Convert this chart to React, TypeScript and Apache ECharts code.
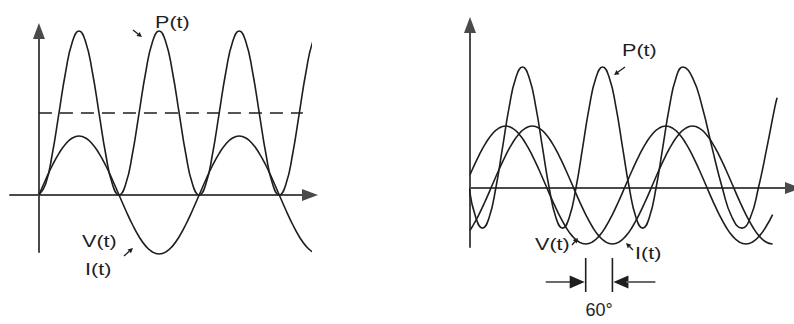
import { useEffect, useRef } from "react";
import * as echarts from "echarts";

// ---- In-phase panel: V(t) and I(t) coincide, P(t) = V·I ----
// phase angle in degrees
const leftTheta = [
  0, 15, 30, 45, 60, 75, 90, 105, 120, 135, 150, 165, 180, 195, 210, 225, 240, 255, 270, 285, 300,
  315, 330, 345, 360, 375, 390, 405, 420, 435, 450, 465, 480, 495, 510, 525, 540, 555, 570, 585, 600,
  615, 630,
];
const leftV = [
  0, 0.259, 0.5, 0.707, 0.866, 0.966, 1, 0.966, 0.866, 0.707, 0.5, 0.259, 0, -0.259, -0.5, -0.707,
  -0.866, -0.966, -1, -0.966, -0.866, -0.707, -0.5, -0.259, 0, 0.259, 0.5, 0.707, 0.866, 0.966, 1,
  0.966, 0.866, 0.707, 0.5, 0.259, 0, -0.259, -0.5, -0.707, -0.866, -0.966, -1,
];
const leftP = [
  0, 0.186, 0.695, 1.39, 2.085, 2.594, 2.78, 2.594, 2.085, 1.39, 0.695, 0.186,
  0, 0.186, 0.695, 1.39, 2.085, 2.594, 2.78, 2.594, 2.085, 1.39, 0.695, 0.186,
  0, 0.186, 0.695, 1.39, 2.085, 2.594, 2.78, 2.594, 2.085, 1.39, 0.695, 0.186,
  0, 0.186, 0.695, 1.39, 2.085, 2.594, 2.78,
];
const leftAvgP = 1.39;
const leftAvgSpan = [0, 593];

// ---- 60° phase-shift panel ----
const rightTheta = [
  10, 15, 30, 45, 60, 75, 90, 105, 120, 135, 150, 165, 180, 195, 210, 225, 240, 255, 270, 285, 300,
  315, 330, 345, 360, 375, 390, 405, 420, 435, 450, 465, 480, 495, 510, 525, 540, 555, 570, 585, 600,
  615, 630, 645, 660, 675, 690,
];
const rightV = [
  0.224, 0.309, 0.55, 0.757, 0.916, 1.016, 1.05, 1.016, 0.916, 0.757, 0.55, 0.309, 0.05, -0.209,
  -0.45, -0.657, -0.816, -0.916, -0.95, -0.916, -0.816, -0.657, -0.45, -0.209, 0.05, 0.309, 0.55,
  0.757, 0.916, 1.016, 1.05, 1.016, 0.916, 0.757, 0.55, 0.309, 0.05, -0.209, -0.45, -0.657, -0.816,
  -0.916, -0.95, -0.916, -0.816, -0.657, -0.45,
];
const rightI = [
  -0.716, -0.657, -0.45, -0.209, 0.05, 0.309, 0.55, 0.757, 0.916, 1.016, 1.05, 1.016, 0.916, 0.757,
  0.55, 0.309, 0.05, -0.209, -0.45, -0.657, -0.816, -0.916, -0.95, -0.916, -0.816, -0.657, -0.45,
  -0.209, 0.05, 0.309, 0.55, 0.757, 0.916, 1.016, 1.05, 1.016, 0.916, 0.757, 0.55, 0.309, 0.05,
  -0.209, -0.45, -0.657, -0.816, -0.916, -0.95,
];
const rightPTheta = [
  8, 23, 38, 53, 68, 83, 98, 113, 128, 143, 158, 173, 188, 203, 218, 233, 248, 263, 278, 293, 308,
  323, 338, 353, 368, 383, 398, 413, 428, 443, 458, 473, 488, 510, 532, 554, 577, 599, 621, 640,
  658, 677, 695, 700,
];
const rightP = [
  0, -0.5, -0.68, -0.5, 0, 0.68, 1.37, 1.87, 2.05, 1.87, 1.37, 0.68,
  0, -0.5, -0.68, -0.5, 0, 0.68, 1.37, 1.87, 2.05, 1.87, 1.37, 0.68,
  0, -0.5, -0.68, -0.5, 0, 0.68, 1.37, 1.87, 2.05, 1.87, 1.37, 0.68,
  0, -0.5, -0.68, -0.5, 0, 0.68, 1.37, 1.53,
];
// troughs of V(t) and I(t), 60° apart
const phaseMarks = [270, 330];

const INK = "#1e1e1e";
const AXIS = "#4a4a4a";
const FONT = "Liberation Sans, Arial, sans-serif";

const zip = (xs: number[], ys: number[]) => xs.map((x, i) => [x, ys[i]]);

export default function App() {
  const ref = useRef<HTMLDivElement>(null);

  useEffect(() => {
    const chart = echarts.init(ref.current!, null, { renderer: "svg" });

    const axisLine = (onZero: boolean) => ({
      show: true,
      onZero,
      symbol: ["none", "triangle"],
      symbolSize: [12, 16],
      lineStyle: { color: AXIS, width: 2 },
    });
    const hidden = {
      axisTick: { show: false },
      axisLabel: { show: false },
      splitLine: { show: false },
    };
    const curve = (grid: number, data: number[][]) => ({
      type: "line",
      xAxisIndex: grid,
      yAxisIndex: grid,
      data,
      smooth: true,
      showSymbol: false,
      symbol: "none",
      clip: false,
      silent: true,
      lineStyle: { color: INK, width: 1.6 },
    });

    chart.setOption({
      animation: false,
      backgroundColor: "#ffffff",
      grid: [
        { left: 10, top: 31, width: 300, height: 221 },
        { left: 470, top: 25, width: 323, height: 222 },
      ],
      xAxis: [
        { type: "value", gridIndex: 0, min: -65, max: 609, axisLine: axisLine(true), ...hidden },
        { type: "value", gridIndex: 1, min: 10, max: 735.8, axisLine: axisLine(true), ...hidden },
      ],
      yAxis: [
        { type: "value", gridIndex: 0, min: -0.966, max: 2.78, axisLine: axisLine(true), ...hidden },
        { type: "value", gridIndex: 1, min: -1, max: 2.763, axisLine: axisLine(false), ...hidden },
      ],
      series: [
        curve(0, zip(leftTheta, leftV)),
        curve(0, zip(leftTheta, leftP)),
        {
          ...curve(0, leftAvgSpan.map((x) => [x, leftAvgP])),
          smooth: false,
          lineStyle: { color: INK, width: 1.6, type: [13, 8] },
        },
        curve(1, zip(rightTheta, rightV)),
        curve(1, zip(rightTheta, rightI)),
        curve(1, zip(rightPTheta, rightP)),
      ],
    });

    const toPx = (g: number, x: number, y: number) =>
      chart.convertToPixel({ gridIndex: g } as any, [x, y]) as number[];

    const label = (text: string, x: number, y: number, size = 16, sx = 1.35) => ({
      type: "text",
      x,
      y,
      scaleX: sx,
      silent: true,
      style: {
        text,
        fill: INK,
        font: `${size}px ${FONT}`,
        textAlign: "left",
        textVerticalAlign: "middle",
      },
    });

    const pointer = (x1: number, y1: number, x2: number, y2: number) => {
      const dx = x2 - x1;
      const dy = y2 - y1;
      const len = Math.hypot(dx, dy);
      const ux = dx / len;
      const uy = dy / len;
      const h = 5;
      const w = 2.6;
      const bx = x2 - ux * h;
      const by = y2 - uy * h;
      return [
        {
          type: "line",
          silent: true,
          shape: { x1, y1, x2: bx, y2: by },
          style: { stroke: INK, lineWidth: 1.3 },
        },
        {
          type: "polygon",
          silent: true,
          shape: {
            points: [
              [x2, y2],
              [bx - uy * w, by + ux * w],
              [bx + uy * w, by - ux * w],
            ],
          },
          style: { fill: INK },
        },
      ];
    };

    const xV = toPx(1, phaseMarks[0], 0)[0];
    const xI = toPx(1, phaseMarks[1], 0)[0];
    const barTop = 258;
    const barBottom = 292;
    const ay = 282;

    const elements: any[] = [
      // left panel labels
      label("P(t)", 155, 23),
      ...pointer(133, 30, 142, 37),
      label("V(t)", 82, 242),
      ...pointer(124, 256, 133, 248),
      label("I(t)", 85, 270),
      // right panel labels
      label("P(t)", 622, 51),
      ...pointer(625, 67, 614, 75),
      label("V(t)", 535, 245),
      ...pointer(572, 245, 578, 238),
      ...pointer(633, 250, 626, 243),
      label("I(t)", 635, 254),
      // 60° phase marker
      { type: "line", silent: true, shape: { x1: xV, y1: barTop, x2: xV, y2: barBottom }, style: { stroke: INK, lineWidth: 1.6 } },
      { type: "line", silent: true, shape: { x1: xI, y1: barTop, x2: xI, y2: barBottom }, style: { stroke: INK, lineWidth: 1.6 } },
      { type: "line", silent: true, shape: { x1: xV - 40, y1: ay, x2: xV - 14, y2: ay }, style: { stroke: "#6a6a6a", lineWidth: 2 } },
      { type: "polygon", silent: true, shape: { points: [[xV - 16, ay - 6.5], [xV - 1, ay], [xV - 16, ay + 6.5]] }, style: { fill: INK } },
      { type: "polygon", silent: true, shape: { points: [[xI + 16, ay - 6.5], [xI + 1, ay], [xI + 16, ay + 6.5]] }, style: { fill: INK } },
      { type: "line", silent: true, shape: { x1: xI + 14, y1: ay, x2: xI + 43, y2: ay }, style: { stroke: "#6a6a6a", lineWidth: 2 } },
      {
        type: "text",
        x: (xV + xI) / 2,
        y: 310,
        silent: true,
        style: {
          text: "60°",
          fill: INK,
          font: `18px ${FONT}`,
          textAlign: "center",
          textVerticalAlign: "middle",
        },
      },
    ];

    chart.setOption({ graphic: { elements } });

    return () => chart.dispose();
  }, []);

  return (
    <div
      ref={ref}
      style={{ position: "fixed", left: 0, top: 0, width: 794, height: 324, background: "#fff" }}
    />
  );
}
